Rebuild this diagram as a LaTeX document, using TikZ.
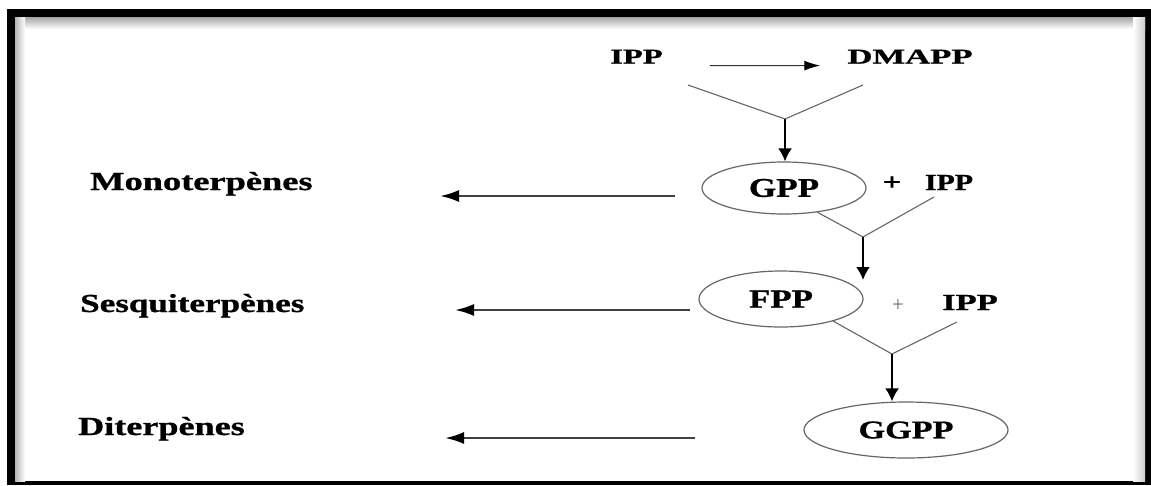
\documentclass[tikz,border=0pt]{standalone}
\usepackage{fontspec}
\setmainfont{Liberation Serif}[BoldFeatures={FakeBold=0.8}]
\usetikzlibrary{arrows.meta,shapes.geometric}
\newcommand{\lbl}[3]{\scalebox{#2}[1]{\fontsize{#1}{#1}\selectfont\bfseries #3}}
\tikzset{
  txt/.style={inner sep=0pt, anchor=base},
  lefttxt/.style={inner sep=0pt, anchor=base west},
  ell/.style={ellipse, draw=black!60, line width=1.2pt, inner sep=0pt},
  vline/.style={draw=black!60, line width=1.1pt},
  downarrow/.style={draw=black, line width=2pt, -{Latex[length=13pt,width=14pt]}},
  outarrow/.style={draw=black!75, line width=2.4pt, -{Latex[length=19pt,width=12pt,fill=black,color=black]}},
  thinarrow/.style={draw=black!80, line width=1.2pt, -{Latex[length=16pt,width=10pt,color=black]}},
}
\begin{document}
\begin{tikzpicture}[x=1pt,y=-1pt]
\useasboundingbox (0,0) rectangle (1151,485);
% frame
\fill[white] (0,0) rectangle (1151,485);
\fill[black] (7,9) rectangle (1151,485);
\fill[white] (15,17) rectangle (1145,481);
\shade[top color=black!35, bottom color=white] (15,17) rectangle (1145,29);
\shade[left color=black!30, right color=white] (15,17) rectangle (25,481);
\shade[left color=white, right color=black!20] (1133,17) rectangle (1145,481);

% top row
\node[txt] (ipp0) at (636.5,63.5) {\lbl{21}{1.55}{IPP}};
\node[txt] (dmapp) at (910,63.5) {\lbl{21}{1.65}{DMAPP}};
\draw[thinarrow, shorten <=47pt, shorten >=27pt] ([yshift=-9pt]ipp0.east) -- ([yshift=-9pt]dmapp.west);

% GPP row
\node[ell, minimum width=164pt, minimum height=52pt] (gpp) at (784,188) {\lbl{27}{1.3}{GPP}\hspace{12pt}};
\node[txt] (plus1) at (892,190) {\lbl{24}{1.35}{+}};
\node[txt] (ipp1) at (949,190) {\lbl{23}{1.3}{IPP}};
\node[lefttxt] (mono) at (90,190) {\lbl{26}{1.4}{Monoterpènes}};

% FPP row
\node[ell, minimum width=164pt, minimum height=56pt] (fpp) at (781,299) {\lbl{26}{1.34}{FPP}\hspace{12pt}};
\node[txt, text=black!60] (plus2) at (898,311) {\fontsize{21}{21}\selectfont +};
\node[txt] (ipp2) at (970,310) {\lbl{23}{1.5}{IPP}};
\node[lefttxt] (sesq) at (80,312) {\lbl{26}{1.35}{Sesquiterpènes}};

% GGPP row
\node[ell, minimum width=204pt, minimum height=56pt] (ggpp) at (906,430) {\lbl{25.5}{1.34}{GGPP}\hspace{12pt}};
\node[lefttxt] (dit) at (78,435) {\lbl{26}{1.39}{Diterpènes}};

% junction coordinates
\coordinate (v1a) at (688,85);
\coordinate (v1b) at (863,85);
\coordinate (j1) at (785,119);
\coordinate (v2b) at (934,197);
\coordinate (j2) at (863,237);
\coordinate (t2) at (863,280);
\coordinate (v3b) at (957,322);
\coordinate (j3) at (892,354);

\draw[vline] (v1a) -- (j1) -- (v1b);
\draw[downarrow] (j1) -- (j1 |- gpp.north);
\draw[vline] (gpp.-36) -- (j2) -- (v2b);
\draw[downarrow] (j2) -- (t2);
\draw[vline] (fpp.-23) -- (j3) -- (v3b);
\draw[downarrow] (j3) -- (j3 |- ggpp.north);

% outgoing arrows
\coordinate (m1) at (675,196);
\coordinate (m2) at (440,196);
\coordinate (s1) at (690,310);
\coordinate (s2) at (455,310);
\coordinate (d1) at (695,438);
\coordinate (d2) at (445,438);
\draw[outarrow] (m1) -- (m2);
\draw[outarrow] (s1) -- (s2);
\draw[outarrow] (d1) -- (d2);
\end{tikzpicture}
\end{document}
